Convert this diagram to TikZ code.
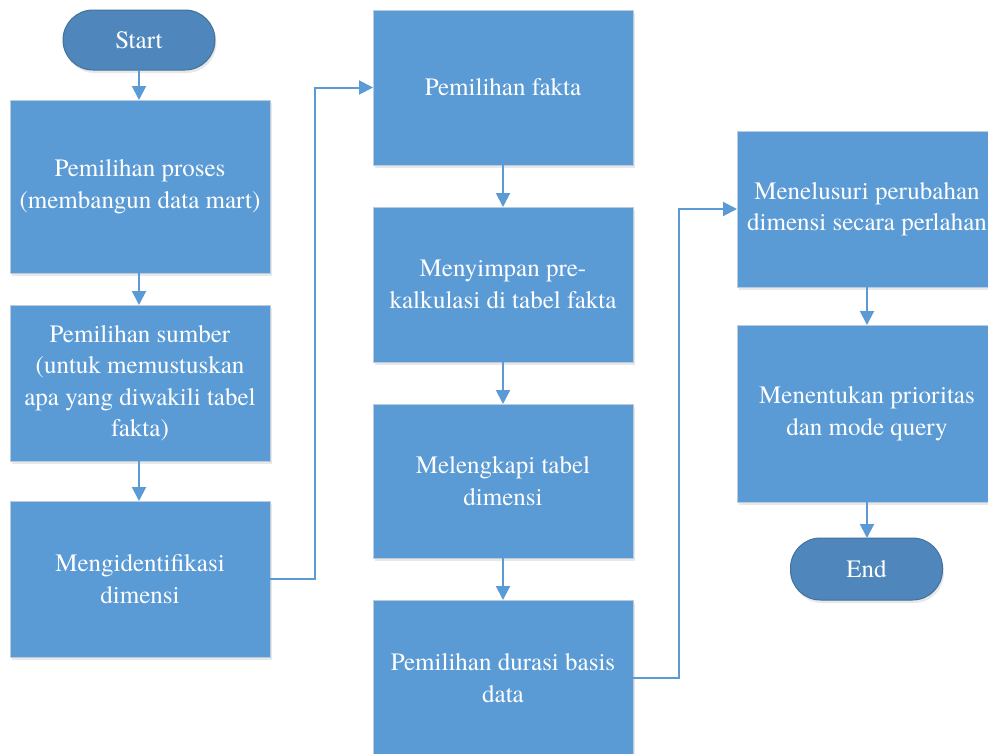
\documentclass[tikz,border=0pt]{standalone}
\usepackage{fontspec}
\setmainfont{TeX Gyre Termes}
\usetikzlibrary{arrows.meta,shadows}
\definecolor{boxfill}{HTML}{5B9BD5}
\definecolor{boxline}{HTML}{B9CBDD}
\definecolor{termfill}{HTML}{4F87BD}
\definecolor{termline}{HTML}{41719C}
\definecolor{arrcol}{HTML}{5B9BD5}
\begin{document}
\begin{tikzpicture}[x=1pt,y=-1pt,
  every node/.style={font=\rmfamily\fontsize{25}{31.5}\selectfont, text=white, align=center, inner sep=0pt, outer sep=0pt},
  procbox/.style={draw=boxline, line width=1pt, fill=boxfill, minimum width=260pt,
    drop shadow={shadow xshift=1.5pt, shadow yshift=-3pt, opacity=0.18, fill=gray}},
  termbox/.style={draw=termline, line width=1pt, fill=termfill, rounded corners=30pt,
    drop shadow={shadow xshift=1.5pt, shadow yshift=-3pt, opacity=0.18, fill=gray}},
  arr/.style={draw=arrcol, line width=2pt, -{Triangle[length=14pt,width=14pt]}}
]
\useasboundingbox (0,0) rectangle (988,753);
\fill[white] (0,0) rectangle (988,753);

% column A
\node[termbox, minimum width=152pt, minimum height=60pt] (start) at (139,40) {Start};
\node[procbox, minimum height=173pt] (a1) at (140,186.5) {Pemilihan proses\\(membangun data mart)};
\node[procbox, minimum height=156pt] (a2) at (140,383) {Pemilihan sumber\\(untuk memustuskan\\apa yang diwakili tabel\\fakta)};
\node[procbox, minimum height=156pt] (a3) at (140,579) {Mengidentifikasi\\dimensi};

% column B
\node[procbox, minimum height=155pt] (b1) at (503,87.5) {Pemilihan fakta};
\node[procbox, minimum height=155pt] (b2) at (503,284.5) {Menyimpan pre-\\kalkulasi di tabel fakta};
\node[procbox, minimum height=154pt] (b3) at (503,481) {Melengkapi tabel\\dimensi};
\node[procbox, minimum height=156pt] (b4) at (503,678) {Pemilihan durasi basis\\data};

% column C
\node[procbox, minimum height=156pt] (c1) at (867,209) {Menelusuri perubahan\\dimensi secara perlahan};
\node[procbox, minimum height=177pt] (c2) at (867,413.5) {Menentukan prioritas\\dan mode query};
\node[termbox, minimum width=152pt, minimum height=62pt] (end) at (866.5,569) {End};

% connectors
\draw[arr] (start.south) -- (a1.north -| start.south);
\draw[arr] (a1.south -| start.south) -- (a2.north -| start.south);
\draw[arr] (a2.south -| start.south) -- (a3.north -| start.south);
\draw[arr] (a3.east) -- ++(45,0) |- (b1.west);
\draw[arr] (b1.south) -- (b2.north);
\draw[arr] (b2.south) -- (b3.north);
\draw[arr] (b3.south) -- (b4.north);
\draw[arr] (b4.east) -- ++(46,0) |- (c1.west);
\draw[arr] (c1.south) -- (c2.north);
\draw[arr] (c2.south) -- (end.north -| c2.south);
\end{tikzpicture}
\end{document}
